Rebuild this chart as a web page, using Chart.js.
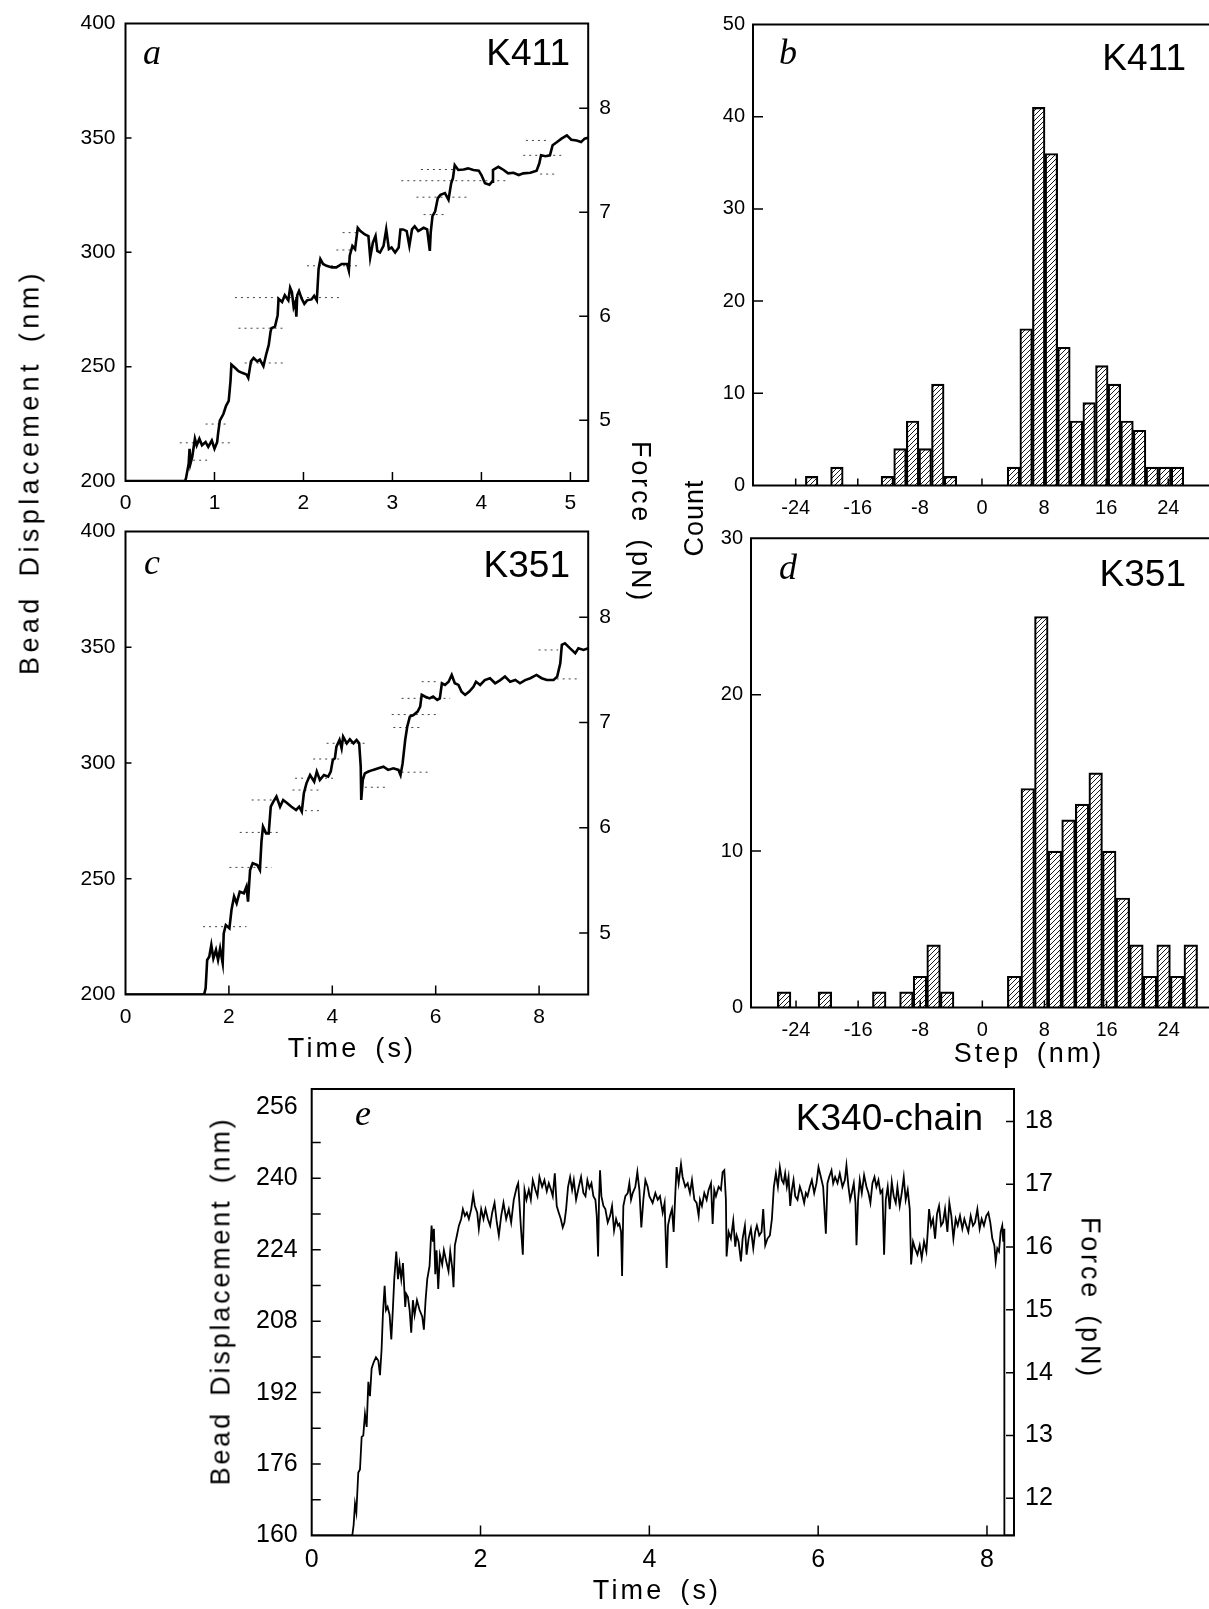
<!DOCTYPE html>
<html>
<head>
<meta charset="utf-8">
<title>Kinesin bead traces and step histograms</title>
<script src="https://cdn.jsdelivr.net/npm/chart.js@4.4.1/dist/chart.umd.min.js"></script>
<style>
  html, body { margin: 0; padding: 0; background: #fff; }
  body { position: relative; width: 1209px; height: 1609px; overflow: hidden; font-family: "Liberation Sans", Arial, sans-serif; color: #000; }
  canvas { position: absolute; }
  .t { position: absolute; white-space: nowrap; line-height: 1; }
  .panel { font-family: "Liberation Serif", "Times New Roman", serif; font-style: italic; font-size: 36px; transform: translate(-50%, -50%); }
  .name { font-size: 37px; transform: translate(-100%, -50%); }
  .axis { font-size: 27px; letter-spacing: 2.8px; word-spacing: 5px; transform: translate(-50%, -50%); }
  .up { transform: translate(-50%, -50%) rotate(-90deg); }
  .down { transform: translate(-50%, -50%) rotate(90deg); }
</style>
</head>
<body>
<canvas id="chartA" width="660" height="520" style="left:0;top:0;width:660px;height:520px"></canvas>
<canvas id="chartB" width="529" height="520" style="left:680px;top:0;width:529px;height:520px"></canvas>
<canvas id="chartC" width="660" height="540" style="left:0;top:500px;width:660px;height:540px"></canvas>
<canvas id="chartD" width="529" height="545" style="left:680px;top:505px;width:529px;height:545px"></canvas>
<canvas id="chartE" width="940" height="549" style="left:180px;top:1060px;width:940px;height:549px"></canvas>

<div class="t panel" style="left:152px;top:52px">a</div>
<div class="t name" style="left:570px;top:52px">K411</div>
<div class="t panel" style="left:788px;top:52px">b</div>
<div class="t name" style="left:1186px;top:57px">K411</div>
<div class="t panel" style="left:152px;top:562px">c</div>
<div class="t name" style="left:570px;top:564px">K351</div>
<div class="t panel" style="left:788px;top:567px">d</div>
<div class="t name" style="left:1186px;top:573px">K351</div>
<div class="t panel" style="left:363px;top:1113px">e</div>
<div class="t name" style="left:983px;top:1117px">K340-chain</div>

<div class="t axis up" style="left:30px;top:472px;letter-spacing:4.4px;word-spacing:6px">Bead Displacement (nm)</div>
<div class="t axis down" style="left:640px;top:522px">Force (pN)</div>
<div class="t axis up" style="left:694px;top:518px;letter-spacing:1px">Count</div>
<div class="t axis" style="left:352px;top:1048px;letter-spacing:3.2px">Time (s)</div>
<div class="t axis" style="left:1029px;top:1053px;letter-spacing:3px">Step (nm)</div>
<div class="t axis up" style="left:221px;top:1301px">Bead Displacement (nm)</div>
<div class="t axis down" style="left:1090px;top:1298px">Force (pN)</div>
<div class="t axis" style="left:657px;top:1590px;letter-spacing:3.2px">Time (s)</div>

<script>
// ---- panel a : K411 bead trace ----
const timeA = [0, 0.67, 0.68, 0.71, 0.72, 0.73, 0.75, 0.78, 0.80, 0.83, 0.86, 0.90, 0.93, 0.97, 1.00, 1.03, 1.04, 1.06, 1.10, 1.13,
  1.16, 1.18, 1.19, 1.23, 1.27, 1.31, 1.36, 1.38, 1.41, 1.44, 1.48, 1.51, 1.55, 1.58, 1.61, 1.63, 1.64, 1.68, 1.71, 1.72,
  1.76, 1.79, 1.83, 1.85, 1.87, 1.89, 1.91, 1.92, 1.93, 1.95, 1.98, 2.01, 2.04, 2.09, 2.12, 2.15, 2.17, 2.19, 2.22, 2.26,
  2.32, 2.37, 2.43, 2.49, 2.51, 2.52, 2.55, 2.58, 2.61, 2.64, 2.69, 2.73, 2.75, 2.78, 2.81, 2.83, 2.86, 2.90, 2.93, 2.96,
  2.99, 3.03, 3.07, 3.09, 3.12, 3.16, 3.19, 3.22, 3.25, 3.29, 3.35, 3.39, 3.42, 3.43, 3.45, 3.48, 3.51, 3.54, 3.59, 3.63,
  3.66, 3.68, 3.70, 3.74, 3.80, 3.85, 3.91, 3.97, 4.00, 4.04, 4.09, 4.12, 4.13, 4.19, 4.25, 4.30, 4.36, 4.42, 4.47, 4.55,
  4.62, 4.65, 4.67, 4.72, 4.77, 4.80, 4.85, 4.90, 4.96, 5.01, 5.07, 5.12, 5.16, 5.20];
const dispA = [200, 200, 201.2, 207.6, 214.1, 207.6, 210.5, 218.5, 215.6, 218.5, 215.6, 217.0, 214.9, 217.7, 214.1, 217.0, 220.6, 226.4, 229.3, 232.9,
  235.0, 243.7, 250.9, 249.5, 248.0, 247.3, 246.6, 245.1, 252.3, 253.8, 252.3, 253.1, 250.2, 255.2, 259.5, 265.3, 266.8, 267.5, 272.5, 279.7,
  278.3, 281.2, 279.0, 284.5, 282.6, 276.0, 278.3, 271.8, 281.2, 283.0, 279.7, 277.5, 279.0, 279.4, 281.0, 279.0, 292.7, 297.0, 294.9, 294.1,
  293.4, 293.4, 294.9, 294.9, 292.0, 298.5, 302.8, 301.4, 310.7, 309.3, 307.8, 307.1, 297.7, 304.2, 307.1, 300.6, 299.9, 302.8, 310.0, 301.4,
  302.1, 299.9, 302.1, 310.0, 310.0, 309.3, 302.8, 310.0, 311.4, 309.3, 310.7, 310.0, 300.6, 308.6, 315.8, 317.9, 323.7, 325.1, 325.9, 323.0,
  330.2, 332.4, 338.1, 336.0, 336.2, 336.7, 336.0, 335.7, 333.8, 330.2, 329.5, 330.9, 336.0, 337.4, 336.0, 334.5, 334.8, 333.8, 334.5, 334.8,
  335.7, 338.8, 342.4, 342.0, 342.4, 346.8, 348.2, 349.7, 351.1, 349.2, 348.9, 348.2, 349.7, 350.1];
// dotted step levels drawn over trace a
const stepLevelA = [209.1, 216.7, 224.9, 251.6, 266.8, 280.2, 294.1, 301.0, 308.6, 316.5, 324.1, 331.3, 336.2, 334.2, 342.4, 348.9];
const stepFromA  = [0.76, 0.61, 0.90, 1.34, 1.27, 1.23, 2.04, 2.37, 2.44, 3.35, 3.27, 3.10, 3.32, 4.66, 4.47, 4.50];
const stepToA    = [0.95, 1.18, 1.16, 1.81, 1.81, 2.41, 2.64, 2.60, 2.62, 3.59, 3.87, 4.28, 3.69, 4.85, 4.94, 4.77];

// ---- panel c : K351 bead trace ----
const timeC = [0, 1.52, 1.55, 1.58, 1.62, 1.66, 1.70, 1.75, 1.79, 1.83, 1.88, 1.90, 1.94, 2.01, 2.05, 2.10, 2.15, 2.21, 2.29, 2.34,
  2.37, 2.41, 2.46, 2.55, 2.60, 2.63, 2.66, 2.72, 2.77, 2.81, 2.86, 2.92, 2.99, 3.05, 3.13, 3.21, 3.30, 3.36, 3.41, 3.45,
  3.50, 3.57, 3.65, 3.70, 3.76, 3.84, 3.92, 3.97, 4.01, 4.05, 4.08, 4.14, 4.18, 4.21, 4.28, 4.34, 4.41, 4.47, 4.52, 4.55,
  4.56, 4.59, 4.63, 4.70, 4.79, 4.89, 4.99, 5.08, 5.18, 5.28, 5.32, 5.36, 5.41, 5.45, 5.50, 5.57, 5.65, 5.70, 5.73, 5.79,
  5.88, 5.95, 6.03, 6.08, 6.12, 6.18, 6.25, 6.31, 6.37, 6.44, 6.50, 6.57, 6.65, 6.73, 6.78, 6.86, 6.95, 7.05, 7.15, 7.25,
  7.34, 7.44, 7.54, 7.63, 7.73, 7.83, 7.95, 8.05, 8.15, 8.28, 8.35, 8.41, 8.44, 8.50, 8.60, 8.70, 8.76, 8.86, 8.95];
const dispC = [200, 200, 202.7, 214.9, 216.3, 221.4, 215.6, 219.2, 214.9, 219.9, 213.5, 226.4, 230.0, 228.6, 236.5, 242.3, 239.4, 244.4, 243.7, 246.6,
  240.1, 253.8, 256.7, 255.9, 253.8, 266.0, 272.5, 269.6, 269.6, 281.1, 283.3, 285.5, 281.1, 284.0, 282.6, 281.1, 279.7, 281.1, 279.0, 286.9,
  291.2, 294.8, 291.9, 296.3, 292.7, 294.8, 294.1, 296.3, 301.3, 302.0, 307.0, 309.9, 306.3, 311.4, 308.5, 310.2, 308.5, 309.9, 308.5, 298.4,
  284.0, 292.7, 295.5, 296.3, 297.0, 297.7, 298.4, 297.0, 297.7, 297.0, 294.8, 299.8, 309.9, 315.7, 320.0, 320.7, 322.2, 324.3, 329.4, 328.7,
  327.9, 328.7, 327.2, 327.9, 334.4, 333.7, 335.1, 338.0, 334.4, 333.7, 330.8, 329.4, 330.8, 332.9, 335.1, 333.7, 335.8, 336.6, 334.4, 335.8,
  337.3, 335.1, 335.8, 334.4, 335.8, 336.6, 338.0, 336.6, 335.8, 335.8, 337.3, 343.0, 351.0, 351.7, 349.5, 347.4, 349.5, 348.8, 349.5];
const stepLevelC = [229.3, 254.9, 270.0, 284.0, 279.4, 288.3, 293.4, 301.7, 308.5, 289.5, 296.0, 315.3, 320.9, 327.9, 335.1, 336.3, 348.8];
const stepFromC  = [1.50, 2.01, 2.21, 2.44, 3.47, 3.23, 3.28, 3.63, 3.89, 4.63, 5.34, 5.18, 5.15, 5.34, 5.73, 8.34, 7.99];
const stepToC    = [2.34, 2.83, 3.02, 2.92, 3.76, 3.76, 4.08, 4.15, 4.70, 5.05, 5.89, 5.75, 6.08, 6.28, 6.05, 8.79, 8.37];

const timeTicksA = [0, 1, 2, 3, 4, 5];
const timeTicksC = [0, 2, 4, 6, 8];
const dispTicks = [200, 250, 300, 350, 400];
const forceTicks = [5, 6, 7, 8];

// ---- panels b, d : step-size histograms (bin centre in nm, count) ----
const stepBinsB = [-21.94, -18.69, -12.19, -10.56, -8.94, -7.31, -5.69, -4.06, 4.06, 5.69, 7.31, 8.94, 10.56, 12.19, 13.81, 15.44, 17.06, 18.69, 20.31, 21.94, 23.56, 25.19];
const countsB   = [1, 2, 1, 4, 7, 4, 11, 1, 2, 17, 41, 36, 15, 7, 9, 13, 11, 7, 6, 2, 2, 2];
const stepBinsD = [-25.53, -20.28, -13.28, -9.78, -8.03, -6.28, -4.53, 4.10, 5.85, 7.60, 9.35, 11.10, 12.85, 14.60, 16.35, 18.10, 19.85, 21.60, 23.35, 25.10, 26.85];
const countsD   = [1, 1, 1, 1, 2, 4, 1, 2, 14, 25, 10, 12, 13, 15, 10, 7, 4, 2, 4, 2, 4];
const stepTicks = [-24, -16, -8, 0, 8, 16, 24];
const countTicksB = [0, 10, 20, 30, 40, 50];
const countTicksD = [0, 10, 20, 30];

// ---- panel e : K340-chain bead trace ----
const timeE = [0, 0.481, 0.497, 0.513, 0.529, 0.552, 0.572, 0.592, 0.611, 0.631, 0.651, 0.671, 0.690, 0.710, 0.734, 0.761, 0.789, 0.809, 0.828, 0.844,
  0.864, 0.880, 0.899, 0.923, 0.943, 0.963, 0.978, 1.002, 1.022, 1.041, 1.061, 1.081, 1.108, 1.120, 1.140, 1.160, 1.179, 1.199, 1.219, 1.247,
  1.278, 1.310, 1.329, 1.349, 1.369, 1.396, 1.420, 1.436, 1.448, 1.464, 1.479, 1.499, 1.519, 1.546, 1.566, 1.594, 1.621, 1.641, 1.665, 1.680,
  1.696, 1.720, 1.744, 1.771, 1.791, 1.815, 1.838, 1.862, 1.890, 1.913, 1.933, 1.961, 1.980, 2.008, 2.035, 2.059, 2.087, 2.114, 2.138, 2.166,
  2.193, 2.217, 2.245, 2.272, 2.304, 2.335, 2.363, 2.394, 2.430, 2.446, 2.461, 2.477, 2.501, 2.521, 2.544, 2.572, 2.596, 2.619, 2.651, 2.675,
  2.698, 2.730, 2.757, 2.785, 2.809, 2.836, 2.856, 2.880, 2.903, 2.927, 2.951, 2.974, 2.994, 3.014, 3.037, 3.061, 3.085, 3.105, 3.132, 3.164,
  3.191, 3.219, 3.243, 3.266, 3.290, 3.314, 3.337, 3.361, 3.377, 3.393, 3.404, 3.416, 3.432, 3.456, 3.479, 3.507, 3.535, 3.558, 3.582, 3.606,
  3.629, 3.645, 3.665, 3.677, 3.692, 3.716, 3.744, 3.763, 3.783, 3.803, 3.834, 3.858, 3.882, 3.905, 3.929, 3.953, 3.980,
  4.000, 4.039, 4.071, 4.099, 4.126, 4.158, 4.181, 4.205, 4.221, 4.245, 4.268, 4.288, 4.308, 4.323, 4.347, 4.375, 4.394, 4.426, 4.454, 4.481,
  4.505, 4.533, 4.560, 4.584, 4.600, 4.623, 4.651, 4.679, 4.702, 4.730, 4.750, 4.769, 4.789, 4.821, 4.848, 4.868, 4.888, 4.907, 4.915, 4.939,
  4.966, 4.994, 5.018, 5.034, 5.057, 5.085, 5.105, 5.132, 5.152, 5.176, 5.203, 5.231, 5.254, 5.274, 5.302, 5.329, 5.349, 5.373, 5.400, 5.428,
  5.452, 5.475, 5.499, 5.523, 5.546, 5.570, 5.590, 5.609, 5.629, 5.649, 5.669, 5.688, 5.708, 5.728, 5.755, 5.783, 5.807, 5.834, 5.854, 5.874,
  5.901, 5.925, 5.953, 5.980, 6.004, 6.032, 6.059, 6.091, 6.110, 6.130, 6.158, 6.178, 6.201, 6.229, 6.256, 6.288, 6.316, 6.335, 6.359, 6.379,
  6.398, 6.422, 6.442, 6.454, 6.473, 6.493, 6.517, 6.544, 6.572, 6.596, 6.619, 6.643, 6.667, 6.690, 6.714, 6.738, 6.761, 6.781, 6.801, 6.824,
  6.848, 6.872, 6.895, 6.919, 6.939, 6.966, 6.990, 7.014, 7.037, 7.061, 7.085, 7.101, 7.124, 7.148, 7.176, 7.203, 7.227, 7.254, 7.282, 7.298,
  7.314, 7.337, 7.361, 7.385, 7.408, 7.432, 7.456, 7.479, 7.503, 7.531, 7.554, 7.578, 7.602, 7.629, 7.653, 7.680, 7.708, 7.732, 7.755, 7.779,
  7.807, 7.834, 7.858, 7.886, 7.913, 7.937, 7.964, 7.992, 8.016, 8.039, 8.063, 8.087, 8.103, 8.122, 8.142, 8.162, 8.181, 8.193, 8.205, 8.206, 8.32];
const dispE = [160, 160.0, 162.4, 167.1, 165.2, 174.1, 174.8, 182.1, 182.4, 187.2, 184.3, 194.4, 191.2, 197.4, 198.8, 199.9, 199.2, 195.9, 201.7, 209.7,
  215.9, 210.5, 211.2, 209.4, 203.9, 211.2, 217.4, 223.6, 217.4, 220.7, 217.4, 221.0, 211.2, 214.1, 213.4, 210.5, 205.4, 212.7, 209.4, 212.7,
  210.5, 209.0, 206.1, 212.7, 217.4, 220.3, 229.4, 225.8, 228.7, 218.5, 223.9, 215.2, 222.9, 220.7, 223.9, 221.4, 219.2, 223.6, 219.9, 215.6,
  225.0, 227.2, 229.4, 230.9, 233.1, 231.6, 232.3, 230.9, 233.1, 236.3, 233.8, 232.3, 228.7, 233.1, 230.9, 233.1, 230.9, 229.4, 232.3, 234.5,
  230.1, 227.2, 231.6, 234.5, 230.9, 233.1, 230.1, 235.2, 238.1, 238.9, 234.5, 229.4, 222.9, 237.4, 235.2, 237.4, 235.2, 239.6, 237.4, 236.0,
  240.3, 238.1, 239.6, 237.1, 238.9, 237.4, 236.0, 241.1, 233.8, 232.3, 230.9, 229.0, 230.1, 233.1, 238.1, 240.3, 237.4, 239.6, 235.2, 238.1,
  240.3, 236.7, 236.0, 239.6, 237.8, 238.9, 236.0, 235.2, 231.6, 222.5, 235.2, 241.8, 236.0, 233.8, 233.1, 230.1, 231.6, 233.8, 228.3, 230.9,
  229.4, 229.8, 228.0, 218.1, 233.8, 236.0, 236.7, 238.9, 235.2, 236.7, 238.1, 241.4, 237.4, 229.0, 235.2, 239.6, 238.1,
  236.0, 234.5, 236.7, 235.2, 236.0, 232.3, 234.5, 219.9, 229.4, 231.6, 233.1, 228.0, 236.7, 242.5, 238.9, 243.2, 240.3, 238.1, 238.9, 236.7,
  239.6, 235.2, 234.5, 231.6, 235.2, 233.8, 236.7, 235.2, 237.4, 238.9, 229.8, 237.4, 236.0, 238.1, 237.4, 241.4, 241.8, 235.2, 222.5, 228.0,
  226.5, 230.5, 224.7, 227.2, 225.8, 221.4, 226.5, 229.4, 222.9, 226.5, 228.7, 224.3, 228.0, 229.4, 227.2, 228.0, 233.1, 225.0, 226.5, 227.2,
  230.9, 238.1, 241.1, 238.1, 242.5, 239.6, 238.9, 241.1, 238.1, 240.3, 233.8, 237.4, 239.6, 236.0, 235.2, 238.1, 236.7, 234.5, 236.7, 236.0,
  238.1, 239.6, 236.7, 238.9, 242.5, 240.3, 238.1, 227.6, 238.9, 240.3, 241.8, 238.9, 240.3, 238.9, 241.1, 238.1, 239.6, 242.9, 238.1, 235.2,
  236.7, 238.9, 234.5, 225.0, 235.2, 239.6, 236.7, 240.7, 238.1, 236.7, 234.5, 238.9, 240.3, 238.1, 239.6, 236.7, 237.4, 222.9, 235.2, 238.1,
  233.1, 239.2, 236.0, 234.5, 238.1, 233.8, 236.7, 240.3, 235.2, 237.4, 233.1, 220.7, 225.8, 224.3, 222.9, 225.0, 222.1, 225.8, 223.6, 228.0,
  233.1, 229.4, 230.9, 226.5, 232.0, 233.8, 229.4, 230.1, 233.1, 228.0, 234.5, 231.6, 226.5, 230.9, 229.4, 231.6, 228.7, 230.9, 229.4, 228.0,
  231.6, 229.4, 230.1, 233.1, 228.7, 230.9, 229.4, 231.6, 232.3, 230.1, 226.5, 225.0, 221.4, 224.3, 223.6, 228.0, 229.4, 225.8, 228.7, 160, 160];
const timeTicksE = [0, 2, 4, 6, 8];
const dispTicksE = [160, 176, 192, 208, 224, 240, 256];
const dispMinorE = [168, 184, 200, 216, 232, 248];
const forceTicksE = [12, 13, 14, 15, 16, 17, 18];

// ---------------------------------------------------------------
const FONT = '"Liberation Sans", Arial, sans-serif';
const NARROW = '"Liberation Sans Narrow", "Liberation Sans", Arial, sans-serif';

function xy(xs, ys) { return xs.map((x, i) => ({ x: x, y: ys[i] })); }
function dotted(levels, from, to) {
  const pts = [];
  levels.forEach((v, i) => { pts.push({ x: from[i], y: v }, { x: to[i], y: v }, { x: to[i], y: null }); });
  return pts;
}
const setTicks = vals => s => { s.ticks = vals.map(v => ({ value: v })); };
const fixWidth = w => s => { s.width = w; };
const fixHeight = h => s => { s.height = h; };

// box around plot area plus inward tick marks
const frameTicks = {
  id: 'frameTicks',
  afterDraw(chart, args, o) {
    const { ctx, chartArea: a, scales } = chart;
    ctx.save();
    ctx.strokeStyle = '#000';
    ctx.lineWidth = o.width || 2;
    ctx.lineCap = 'square';
    ctx.beginPath();
    const sides = o.sides || ['top', 'right', 'bottom', 'left'];
    if (sides.includes('top')) { ctx.moveTo(a.left, a.top); ctx.lineTo(a.right, a.top); }
    if (sides.includes('right')) { ctx.moveTo(a.right, a.top); ctx.lineTo(a.right, a.bottom); }
    if (sides.includes('bottom')) { ctx.moveTo(a.left, a.bottom); ctx.lineTo(a.right, a.bottom); }
    if (sides.includes('left')) { ctx.moveTo(a.left, a.top); ctx.lineTo(a.left, a.bottom); }
    ctx.stroke();
    ctx.lineWidth = 1.5;
    ctx.lineCap = 'butt';
    ctx.beginPath();
    (o.marks || []).forEach(m => {
      const s = scales[m.axis];
      m.values.forEach(v => {
        const p = s.getPixelForValue(v);
        if (m.side === 'bottom') { ctx.moveTo(p, a.bottom); ctx.lineTo(p, a.bottom - m.len); }
        if (m.side === 'left') { ctx.moveTo(a.left, p); ctx.lineTo(a.left + m.len, p); }
        if (m.side === 'right') { ctx.moveTo(a.right, p); ctx.lineTo(a.right - m.len, p); }
      });
    });
    ctx.stroke();
    ctx.restore();
  }
};

function axis(o) {
  return Object.assign({
    type: 'linear',
    grid: { display: false, drawTicks: false },
    border: { display: false },
    ticks: { font: { family: o.family || FONT, size: o.size || 19 }, color: '#000', padding: o.pad, autoSkip: false, maxRotation: 0, minRotation: 0 }
  }, o.extra);
}

function traceChart(id, o) {
  const sets = [{ data: xy(o.time, o.disp), borderColor: '#000', borderWidth: o.lw, pointRadius: 0, tension: 0, order: 0 }];
  if (o.steps) sets.push({ data: o.steps, borderColor: '#444', borderWidth: 1, borderDash: [2, 4], pointRadius: 0, spanGaps: false, order: 1 });
  return new Chart(document.getElementById(id), {
    type: 'line',
    data: { datasets: sets },
    options: {
      responsive: false, animation: false, devicePixelRatio: 1, events: [],
      layout: { padding: { top: o.padTop, left: 0, right: 0, bottom: 0 } },
      plugins: { legend: { display: false }, tooltip: { enabled: false }, frameTicks: o.frame },
      scales: {
        x: axis({ pad: o.xPad, size: o.fs, family: o.family, extra: { min: 0, max: o.tmax, afterBuildTicks: setTicks(o.tTicks), afterFit: fixHeight(o.xh) } }),
        y: axis({ pad: o.yPad, size: o.fs, family: o.family, extra: { position: 'left', min: o.dmin, max: o.dmax, afterBuildTicks: setTicks(o.dTicks), afterFit: fixWidth(o.yw) } }),
        y2: axis({ pad: o.y2Pad, size: o.fs, family: o.family, extra: { position: 'right', min: o.fmin, max: o.fmax, afterBuildTicks: setTicks(o.fTicks), afterFit: fixWidth(o.y2w) } })
      }
    },
    plugins: [frameTicks]
  });
}

function hatchPattern() {
  const c = document.createElement('canvas');
  c.width = 5; c.height = 5;
  const g = c.getContext('2d');
  g.strokeStyle = '#000'; g.lineWidth = 0.9;
  g.beginPath();
  g.moveTo(0, 5); g.lineTo(5, 0);
  g.moveTo(-1, 1); g.lineTo(1, -1);
  g.moveTo(4, 6); g.lineTo(6, 4);
  g.stroke();
  return g.createPattern(c, 'repeat');
}

function histChart(id, o) {
  return new Chart(document.getElementById(id), {
    type: 'bar',
    data: { datasets: [{ data: xy(o.bins, o.counts), backgroundColor: hatchPattern(), borderColor: '#000', borderWidth: 1.5,
      barPercentage: 1, categoryPercentage: 1 }] },
    options: {
      responsive: false, animation: false, devicePixelRatio: 1, events: [],
      layout: { padding: { top: o.padTop, left: 0, right: 0, bottom: 0 } },
      plugins: { legend: { display: false }, tooltip: { enabled: false },
        frameTicks: { sides: ['top', 'bottom', 'left'], width: 2,
          marks: [{ axis: 'x', side: 'bottom', values: stepTicks, len: 7 }, { axis: 'y', side: 'left', values: o.cTicks.slice(1, -1), len: 10 }] } },
      scales: {
        x: axis({ pad: o.xPad, size: 20, extra: { min: o.xmin, max: o.xmax, offset: false, afterBuildTicks: setTicks(stepTicks), afterFit: fixHeight(o.xh) } }),
        y: axis({ pad: 8, size: 20, extra: { min: 0, max: o.cmax, afterBuildTicks: setTicks(o.cTicks), afterFit: fixWidth(o.yw) } })
      }
    },
    plugins: [frameTicks]
  });
}

traceChart('chartA', {
  time: timeA, disp: dispA, steps: dotted(stepLevelA, stepFromA, stepToA), lw: 2.6, fs: 21,
  tmax: 5.2, dmin: 200, dmax: 400, fmin: 4.415, fmax: 8.815,
  tTicks: timeTicksA, dTicks: dispTicks, fTicks: forceTicks,
  padTop: 18.4, yw: 125.5, y2w: 71.8, xh: 39, xPad: 10, yPad: 10, y2Pad: 11,
  frame: { width: 2, marks: [
    { axis: 'x', side: 'bottom', values: timeTicksA.slice(1), len: 9 },
    { axis: 'y', side: 'left', values: dispTicks.slice(1, -1), len: 6 },
    { axis: 'y2', side: 'right', values: forceTicks, len: 9 }] }
});

traceChart('chartC', {
  time: timeC, disp: dispC, steps: dotted(stepLevelC, stepFromC, stepToC), lw: 2.6, fs: 21,
  tmax: 8.95, dmin: 200, dmax: 400, fmin: 4.415, fmax: 8.815,
  tTicks: timeTicksC, dTicks: dispTicks, fTicks: forceTicks,
  padTop: 31.4, yw: 125.5, y2w: 71.8, xh: 45.5, xPad: 10, yPad: 10, y2Pad: 11,
  frame: { width: 2, marks: [
    { axis: 'x', side: 'bottom', values: timeTicksC.slice(1), len: 9 },
    { axis: 'y', side: 'left', values: dispTicks.slice(1, -1), len: 6 },
    { axis: 'y2', side: 'right', values: forceTicks, len: 9 }] }
});

histChart('chartB', { bins: stepBinsB, counts: countsB, cmax: 50, cTicks: countTicksB,
  xmin: -29.5, xmax: 29.25, padTop: 24.4, yw: 73, xh: 34.4, xPad: 11 });

histChart('chartD', { bins: stepBinsD, counts: countsD, cmax: 30, cTicks: countTicksD,
  xmin: -29.8, xmax: 29.2, padTop: 33.3, yw: 71, xh: 42.5, xPad: 11 });

traceChart('chartE', {
  time: timeE, disp: dispE, lw: 1.8, fs: 25, family: NARROW,
  tmax: 8.32, dmin: 160, dmax: 260, fmin: 11.408, fmax: 18.516,
  tTicks: timeTicksE, dTicks: dispTicksE, fTicks: forceTicksE,
  padTop: 16.7, yw: 131.7, y2w: 106, xh: 73.5, xPad: 10, yPad: 14, y2Pad: 11,
  frame: { width: 2, marks: [
    { axis: 'x', side: 'bottom', values: timeTicksE.slice(1), len: 10 },
    { axis: 'y', side: 'left', values: dispTicksE.slice(1, -1).concat(dispMinorE), len: 9 },
    { axis: 'y2', side: 'right', values: forceTicksE, len: 8 }] }
});
</script>
</body>
</html>
